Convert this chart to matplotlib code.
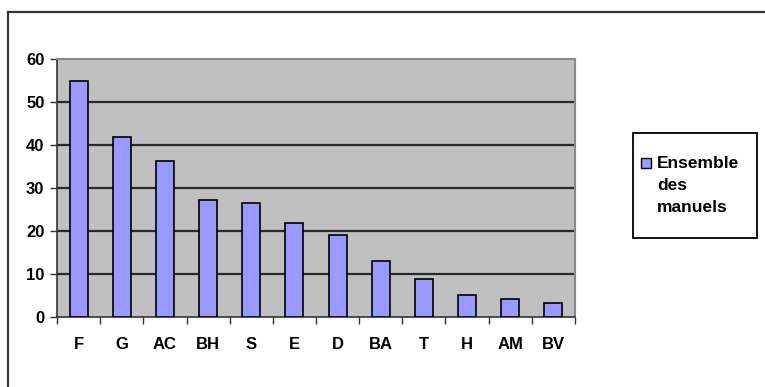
import matplotlib.pyplot as plt
from matplotlib.lines import Line2D
from matplotlib.patches import Rectangle
import numpy as np

# Share of each category across all textbooks
categories = ["F", "G", "AC", "BH", "S", "E", "D", "BA", "T", "H", "AM", "BV"]
values = [55, 42, 36.3, 27.2, 26.6, 22, 19.1, 13.2, 9, 5.1, 4.2, 3.3]
series_name = "Ensemble\ndes\nmanuels"
yticks = [0, 10, 20, 30, 40, 50, 60]

plt.rcParams["font.family"] = ["Liberation Sans Narrow", "Liberation Sans", "DejaVu Sans"]
plt.rcParams["font.weight"] = "bold"

fig = plt.figure(figsize=(7.65, 3.87), dpi=100)
fig.patch.set_facecolor("white")

W, H = 765, 387
ax = fig.add_axes([57 / W, 1 - 317.3 / H, 518 / W, 258 / H])
ax.set_facecolor("#c0c0c0")

x = np.arange(len(categories))
ax.bar(x, values, width=0.42, color="#9999ff", edgecolor="black", linewidth=1.2, zorder=3)

ax.set_xlim(-0.5, len(categories) - 0.5)
ax.set_ylim(0, 60)
ax.set_yticks(yticks)
ax.set_yticklabels([str(v) for v in yticks], fontsize=12, fontweight="bold")

# category labels centred under bars, tick marks between categories
ax.set_xticks(np.arange(len(categories) + 1) - 0.5)
ax.set_xticklabels([])
ax.set_xticks(x, minor=True)
ax.set_xticklabels(categories, minor=True, fontsize=12, fontweight="bold")
ax.tick_params(axis="x", which="major", direction="out", length=5, width=1, color="#333333")
ax.tick_params(axis="x", which="minor", length=0, pad=14)
ax.tick_params(axis="y", direction="out", length=5, width=1, color="#333333", pad=4)

for v in yticks[1:-1]:
    ax.axhline(v, color="#2a2a2a", linewidth=1.6, zorder=1)

for side in ["top", "right"]:
    ax.spines[side].set_color("#8a8a8a")
    ax.spines[side].set_linewidth(1.5)
for side in ["left", "bottom"]:
    ax.spines[side].set_color("#333333")
    ax.spines[side].set_linewidth(1.2)

# legend box on the right
fig.add_artist(Rectangle((632.7 / W, 1 - 238.3 / H), 124 / W, 105.6 / H,
                         transform=fig.transFigure, facecolor="white",
                         edgecolor="black", linewidth=1.3))
fig.add_artist(Rectangle((641 / W, 1 - 168 / H), 10 / W, 10 / H,
                         transform=fig.transFigure, facecolor="#9999ff",
                         edgecolor="black", linewidth=1.0))
fig.text(657 / W, 1 - 156 / H, series_name, fontsize=12.5, fontweight="bold",
         ha="left", va="top", linespacing=1.6)

# outer chart frame running off the right and bottom edges
fig.add_artist(Line2D([8 / W, 8 / W], [0, 1 - 12 / H], transform=fig.transFigure,
                      color="#333333", linewidth=1.6))
fig.add_artist(Line2D([8 / W, 1], [1 - 12 / H, 1 - 12 / H], transform=fig.transFigure,
                      color="#333333", linewidth=1.6))

fig.savefig("out.png", dpi=100)
